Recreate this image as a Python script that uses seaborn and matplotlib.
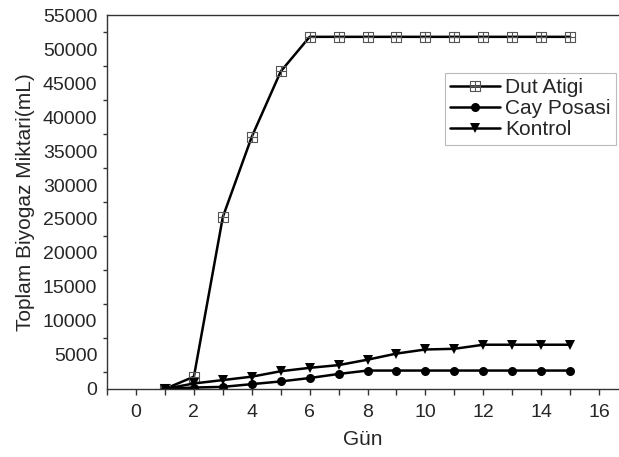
import numpy as np
import pandas as pd
import matplotlib
matplotlib.use('Agg')
import matplotlib.pyplot as plt
from matplotlib.path import Path
from matplotlib.ticker import MultipleLocator
import seaborn as sns

# gün ve biyogaz değerleri
gun = list(range(1, 16))
dut_atigi = [0, 1800, 25300, 37100, 46700, 51800, 51800, 51800, 51800, 51800,
             51800, 51800, 51800, 51800, 51800]
cay_posasi = [0, 200, 300, 700, 1100, 1600, 2200, 2700, 2700, 2700,
              2700, 2700, 2700, 2700, 2700]
kontrol = [0, 800, 1300, 1800, 2600, 3100, 3500, 4300, 5200, 5800,
           5900, 6500, 6500, 6500, 6500]

x_ticklabels = [str(v) for v in range(0, 17, 2)]
y_ticklabels = [str(v) for v in range(0, 55001, 5000)]

df = pd.DataFrame({'Gün': gun, 'Dut Atigi': dut_atigi,
                   'Cay Posasi': cay_posasi, 'Kontrol': kontrol})

sns.set_style('white')
plt.rcParams['font.family'] = ['Liberation Sans', 'DejaVu Sans']

# kare icinde arti isareti
sq_plus = Path(
    [(-1, -1), (1, -1), (1, 1), (-1, 1), (-1, -1),
     (0, -1), (0, 1), (-1, 0), (1, 0)],
    [Path.MOVETO, Path.LINETO, Path.LINETO, Path.LINETO, Path.CLOSEPOLY,
     Path.MOVETO, Path.LINETO, Path.MOVETO, Path.LINETO])

fig = plt.figure(figsize=(6.19, 4.57), dpi=100)
ax = fig.add_axes([0.173, 0.149, 0.827, 0.818])

sns.lineplot(data=df, x='Gün', y='Dut Atigi', ax=ax, color='black', lw=1.8,
             marker=sq_plus, markersize=6.5, markerfacecolor='none',
             markeredgecolor='#555555', markeredgewidth=0.8, label='Dut Atigi')
sns.lineplot(data=df, x='Gün', y='Cay Posasi', ax=ax, color='black', lw=1.8,
             marker='o', markersize=6.5, markeredgewidth=0, label='Cay Posasi')
sns.lineplot(data=df, x='Gün', y='Kontrol', ax=ax, color='black', lw=1.8,
             marker='v', markersize=7, markeredgewidth=0, label='Kontrol')

ax.set_xlim(-1, 16.69)
ax.set_ylim(0, 55000)
ax.set_xticks(range(0, 17, 2))
ax.set_xticklabels(x_ticklabels)
ax.xaxis.set_minor_locator(MultipleLocator(1))
ax.set_yticks(range(0, 55001, 5000))
ax.set_yticklabels(y_ticklabels)
ax.set_yticks(np.arange(2500, 55000, 5000), minor=True)

ax.tick_params(axis='x', which='both', direction='out', length=4, width=1,
               color='#333333', pad=7, labelsize=14, bottom=True)
ax.tick_params(axis='y', which='major', length=0, pad=7, labelsize=14, left=True)
ax.tick_params(axis='y', which='minor', direction='out', length=3, width=1,
               color='#333333', left=True)

for s in ['left', 'bottom', 'top']:
    ax.spines[s].set_color('#333333')
    ax.spines[s].set_linewidth(1)
ax.spines['right'].set_visible(False)

ax.set_xlabel('Gün', fontsize=15, labelpad=6)
ax.set_ylabel('Toplam Biyogaz Miktari(mL)', fontsize=15, labelpad=6)

leg = ax.legend(loc='upper left', bbox_to_anchor=(0.66, 0.845), fontsize=15,
                frameon=True, fancybox=False, edgecolor='#aaaaaa',
                handlelength=2.4, handletextpad=0.25, borderpad=0.25,
                labelspacing=0.1, borderaxespad=0)
leg.get_frame().set_linewidth(0.8)

fig.savefig('out.png', dpi=100)
